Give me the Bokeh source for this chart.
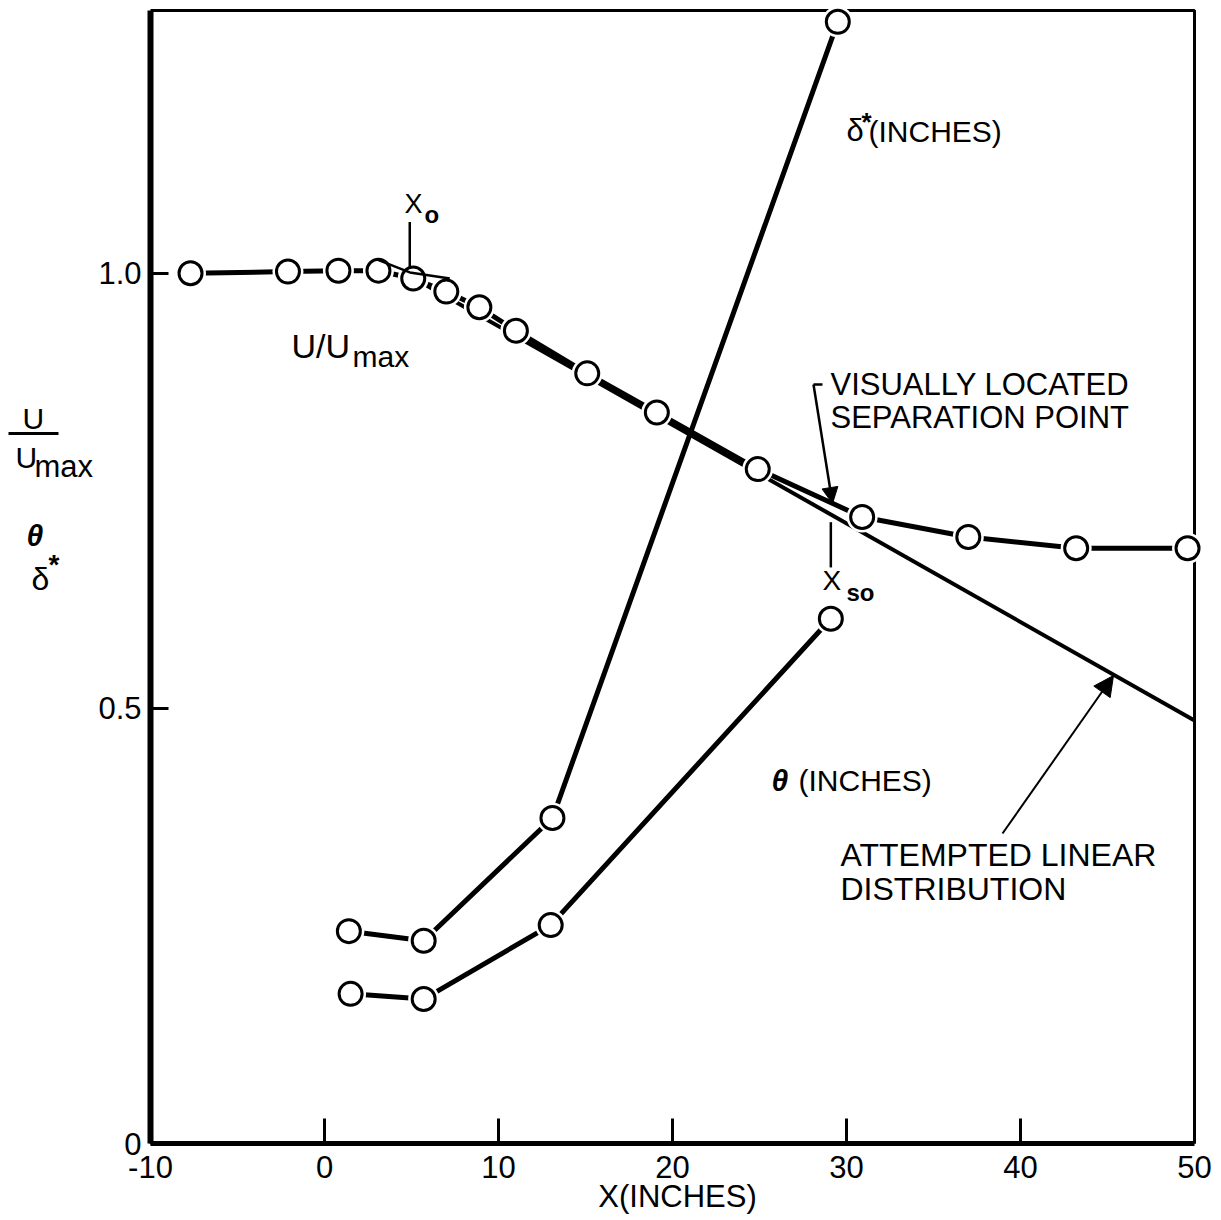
from bokeh.plotting import figure
from bokeh.models import Range1d, Label, Arrow, NormalHead, FixedTicker
from bokeh.embed import file_html
from bokeh.resources import INLINE

# ---------------- data ----------------
u_x = [-7.7, -2.1, 0.8, 3.1, 5.1, 7.0, 8.9, 11.0, 15.1, 19.1, 24.9, 30.9, 37.0, 43.2, 49.6]
u_y = [1.000, 1.002, 1.003, 1.003, 0.994, 0.979, 0.961, 0.934, 0.885, 0.840, 0.775, 0.720, 0.697, 0.684, 0.684]

dstar_x = [1.4, 5.7, 13.1, 29.5]
dstar_y = [0.244, 0.233, 0.374, 1.289]

theta_x = [1.5, 5.7, 13.0, 29.1]
theta_y = [0.172, 0.166, 0.251, 0.603]

linear_x = [4.9, 50.0]
linear_y = [0.997, 0.486]

tangent_x = [3.0, 4.9, 7.2]
tangent_y = [1.016, 1.001, 0.994]

x0_pos = 4.9
x0_marker_y = [1.006, 1.059]
xso_pos = 29.1
xso_marker_y = [0.662, 0.714]

x_lim = [-10, 50]
y_lim = [0, 1.302]
x_ticks = [-10, 0, 10, 20, 30, 40, 50]
x_tick_labels = ["-10", "0", "10", "20", "30", "40", "50"]
y_ticks = [0, 0.5, 1.0]
y_tick_labels = ["0", "0.5", "1.0"]

FONT = "Liberation Sans"

# ---------------- layout mapping (canvas pixels <-> data) ----------------
W, H = 1215, 1215
PX0, PXU = 150.0, 17.4     # canvas x of x=-10, pixels per x unit
PY0, PYU = 1143.0, 870.2   # canvas y of y=0, pixels per y unit


def DX(xp):
    return x_lim[0] + (xp - PX0) / PXU


def DY(yp):
    return (PY0 - yp) / PYU


p = figure(width=W, height=H,
           x_range=Range1d(DX(0), DX(W)), y_range=Range1d(DY(H), DY(0)),
           output_backend="svg", toolbar_location=None,
           min_border_left=0, min_border_right=0,
           min_border_top=0, min_border_bottom=0)
p.min_border = 0
p.grid.visible = False
p.background_fill_color = "white"
p.border_fill_color = "white"
p.outline_line_color = None

xa = p.xaxis[0]
ya = p.yaxis[0]
xa.fixed_location = y_lim[0]
ya.fixed_location = x_lim[0]
xa.bounds = tuple(x_lim)
ya.bounds = tuple(y_lim)
for ax in (xa, ya):
    ax.axis_line_color = "black"
    ax.major_tick_out = 0
    ax.minor_tick_in = 0
    ax.minor_tick_out = 0
    ax.major_tick_line_width = 3
    ax.major_tick_line_color = "black"
    ax.major_label_text_font = FONT
    ax.major_label_text_font_size = "31px"
    ax.major_label_text_color = "black"

xa.ticker = FixedTicker(ticks=x_ticks)
xa.major_label_overrides = dict(zip(x_ticks, x_tick_labels))
xa.axis_line_width = 5
xa.major_tick_in = 25
xa.major_label_standoff = 12

ya.ticker = FixedTicker(ticks=y_ticks)
ya.major_label_overrides = dict(zip(y_ticks, y_tick_labels))
ya.axis_line_width = 6
ya.major_tick_in = 18
ya.major_label_standoff = 9

# top and right border of the plotting box
p.line([x_lim[0], x_lim[1], x_lim[1]], [y_lim[1], y_lim[1], y_lim[0]],
       line_color="black", line_width=3)


def lab(xp, yp, text, size=31, style="normal", align="left", font=FONT):
    # yp is the wanted baseline; Bokeh places "alphabetic" text ~0.35em lower
    yb = yp - 0.35 * size
    p.add_layout(Label(x=DX(xp), y=DY(yb), text=text, text_font=font,
                       text_font_size=f"{size}px", text_font_style=style,
                       text_align=align, text_baseline="alphabetic",
                       text_color="black"))


# ---------------- lines ----------------
p.line(linear_x, linear_y, line_color="black", line_width=4)
p.line(u_x, u_y, line_color="black", line_width=5)
p.line(dstar_x, dstar_y, line_color="black", line_width=5)
p.line(theta_x, theta_y, line_color="black", line_width=5)

# white halos around circles, then open circles
for xs, ys in ((u_x, u_y), (dstar_x, dstar_y), (theta_x, theta_y)):
    p.scatter(xs, ys, size=31, marker="circle", fill_color="white", line_color=None)
for xs, ys in ((u_x, u_y), (dstar_x, dstar_y), (theta_x, theta_y)):
    p.scatter(xs, ys, size=23, marker="circle", fill_color="white",
              line_color="black", line_width=3)

# tangent at x0 and marker ticks
p.line(tangent_x, tangent_y, line_color="black", line_width=2.5)
p.line([x0_pos, x0_pos], x0_marker_y, line_color="black", line_width=2.5)
p.line([xso_pos, xso_pos], xso_marker_y, line_color="black", line_width=2.5)

# ---------------- arrows ----------------
p.add_layout(Arrow(x_start=DX(822), y_start=DY(384), x_end=DX(813), y_end=DY(384),
                   end=None, line_width=2.5, line_color="black"))
p.add_layout(Arrow(x_start=DX(813), y_start=DY(384), x_end=DX(832), y_end=DY(503),
                   end=NormalHead(size=16, fill_color="black", line_color="black"),
                   line_width=2.5, line_color="black"))
p.add_layout(Arrow(x_start=DX(1002), y_start=DY(833), x_end=DX(1113), y_end=DY(675),
                   end=NormalHead(size=20, fill_color="black", line_color="black"),
                   line_width=2, line_color="black"))

# ---------------- text ----------------
lab(830, 395, "VISUALLY LOCATED")
lab(830, 428, "SEPARATION POINT")

lab(846, 141, "δ")
lab(861, 131, "*", size=26, style="bold")
lab(868, 141, "(INCHES)", size=30)

lab(771, 790, "θ", size=30, style="bold italic")
lab(798, 790, "(INCHES)", size=30)

lab(840, 866, "ATTEMPTED LINEAR", size=32)
lab(840, 900, "DISTRIBUTION", size=32)

lab(291, 357, "U/U", size=34)
lab(352, 366, "max", size=30)

lab(404, 213, "X", size=27)
lab(424, 222, "o", size=24, style="bold")

lab(822, 590, "X", size=28)
lab(846, 600, "so", size=24, style="bold")

lab(677, 1207, "X(INCHES)", size=31, align="center")

# y-axis label block
lab(22, 428, "U", size=30)
p.add_layout(Arrow(x_start=DX(8), y_start=DY(433), x_end=DX(58), y_end=DY(433),
                   end=None, line_width=3, line_color="black"))
lab(15, 467, "U", size=30)
lab(34, 477, "max", size=31)
lab(26, 545, "θ", size=30, style="bold italic")
lab(31, 590, "δ", size=32)
lab(48, 574, "*", size=28, style="bold")

open("out.html", "w").write(file_html(p, INLINE))
